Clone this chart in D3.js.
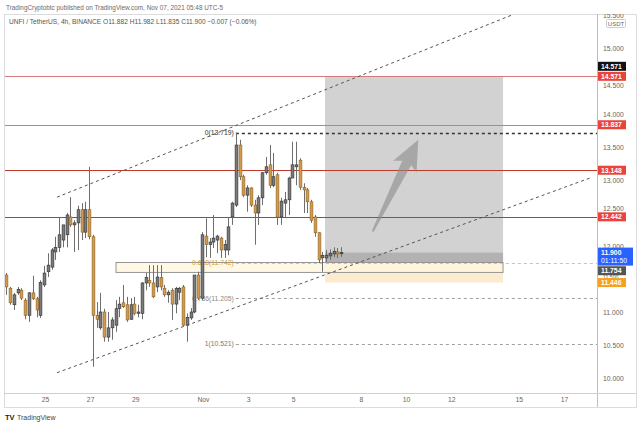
<!DOCTYPE html>
<html><head><meta charset="utf-8">
<script src="https://cdn.jsdelivr.net/npm/d3@7"></script>
<style>body{margin:0;background:#fff}svg{display:block;font-family:"Liberation Sans",Arial,sans-serif}</style>
</head><body><svg id="c" width="640" height="427"></svg>
<script>
// ---------- DATA ----------
const firstBar = "2021-10-23T07:00:00Z";   // 4h bars
const barHours = 4;
const opens  = [11.56,11.36,11.11,11.29,11.33,11.18,10.95,11.29,11.20,10.95,11.41,11.61,11.68,11.91,11.98,12.09,12.17,12.44,12.32,12.35,12.55,12.21,12.55,12.14,10.95,10.76,11.00,10.62,10.76,10.80,11.05,11.14,11.11,10.89,11.12,10.98,10.98,11.44,11.48,11.44,11.38,11.52,11.36,11.26,11.33,11.12,11.30,11.38,10.80,10.91,11.00,11.56,11.21,12.15,12.02,12.06,12.09,12.12,11.94,11.94,12.44,12.62,13.53,13.05,12.77,12.88,12.62,12.50,12.73,13.11,13.23,12.92,13.08,12.44,12.65,12.70,13.03,13.20,13.30,12.89,12.85,12.67,12.44,12.20,11.82,11.82,11.85,11.88,11.91,11.882];
const highs  = [11.59,11.38,11.29,11.38,11.36,11.21,11.30,11.55,11.23,11.48,11.70,11.89,11.97,12.14,12.44,12.32,12.50,12.74,12.39,12.61,12.65,12.67,13.20,12.17,11.15,11.29,11.05,11.00,10.92,11.18,11.23,11.41,11.23,11.21,11.23,11.11,11.45,11.59,11.71,11.71,11.71,11.71,11.41,11.33,11.36,11.38,11.38,11.41,10.98,11.06,11.56,11.61,12.21,12.42,12.12,12.47,12.17,12.14,12.09,12.44,12.67,13.719,13.61,13.08,12.92,12.89,12.70,12.77,13.12,13.35,13.53,13.41,13.11,12.73,12.82,13.05,13.58,13.58,13.33,12.95,12.88,12.70,12.47,12.21,11.91,11.94,11.95,11.98,11.97,11.982];
const lows   = [11.26,11.11,11.03,11.26,11.18,10.89,10.85,11.18,10.92,10.91,11.38,11.53,11.64,11.79,11.91,11.98,11.98,12.29,11.91,11.94,12.09,12.12,12.10,10.17,10.76,10.73,10.55,10.55,10.58,10.70,10.92,11.06,10.85,10.88,10.95,10.92,10.89,11.33,11.38,11.21,11.30,11.33,11.23,11.14,10.88,10.98,11.18,10.78,10.55,10.88,10.98,11.18,11.18,11.83,11.82,11.97,11.89,11.82,11.82,11.86,12.32,12.59,13.00,12.74,12.52,12.59,12.02,12.32,12.62,13.08,12.88,12.89,12.32,12.32,12.44,12.47,13.03,12.92,12.85,12.50,12.50,12.35,12.14,11.74,11.61,11.76,11.79,11.83,11.82,11.835];
const closes = [11.38,11.14,11.26,11.34,11.21,10.95,11.29,11.20,11.03,11.45,11.59,11.71,11.94,11.98,12.17,12.32,12.47,12.32,12.35,12.55,12.21,12.55,12.14,10.95,10.89,11.00,10.62,10.76,10.88,11.05,11.12,11.08,10.88,11.11,10.98,11.00,11.44,11.52,11.44,11.23,11.53,11.38,11.26,11.30,11.12,11.36,11.36,10.80,10.92,11.00,11.56,11.21,12.17,12.02,12.06,12.12,12.15,11.94,12.02,12.29,12.65,13.53,13.05,12.77,12.88,12.62,12.50,12.73,13.11,13.20,12.92,13.05,12.44,12.68,12.70,13.03,13.23,13.23,12.89,12.85,12.67,12.39,12.20,11.79,11.86,11.86,11.89,11.92,11.88,11.900];

const xTickDates  = ["2021-10-25","2021-10-27","2021-10-29","2021-11-01","2021-11-03","2021-11-05","2021-11-08","2021-11-10","2021-11-12","2021-11-15","2021-11-17"];
const xTickLabels = ["25","27","29","Nov","3","5","8","10","12","15","17"];
const yTickValues = [10,10.5,11,11.5,12,12.5,13,13.5,14,14.5,15,15.5];

const levelValues = [14.571,13.837,13.148,12.442];

const fibHigh = 13.719, fibLow = 10.521;
const fibRatios = [0,0.618,0.786,1];
const fibLabels = ["0(13.719)","0.618(11.742)","0.786(11.205)","1(10.521)"];
const fibStart = "2021-11-02T11:00:00Z";

const channelUpper = [["2021-10-25T12:45:00Z",12.74],["2021-11-14T16:40:00Z",15.50]];
const channelLower = [["2021-10-25T12:45:00Z",10.08],["2021-11-18T03:40:00Z",13.03]];

const zoneBoxStart = "2021-10-28T03:30:00Z", zoneBoxEnd = "2021-11-14T07:10:00Z";
const zoneBoxTop = 11.75, zoneBoxBottom = 11.60;

const longStart = "2021-11-06T09:50:00Z", longEnd = "2021-11-14T07:10:00Z";
const longEntry = 11.754, longTarget = 14.571, longStop = 11.446, lastPrice = 11.900;

const arrowTail = ["2021-11-08T12:30:00Z",12.22];
const arrowTip  = ["2021-11-10T13:00:00Z",13.61];

const tagValues = [14.571,14.571,13.837,13.148,12.442,11.900,11.754,11.446];
const tagTexts  = ["14.571","14.571","13.837","13.148","12.442","11.900","11.754","11.446"];
const countdown = "01:11:50";

const headerLine1 = "TradingCryptobtc published on TradingView.com, Nov 07, 2021 05:48 UTC-5";
const headerLine2 = "UNFI / TetherUS, 4h, BINANCE  O11.882  H11.982  L11.835  C11.900  −0.007 (−0.06%)";

// ---------- LAYOUT ----------
const W = 640, H = 427;
const P = {l:4, r:597, t:14, b:393, axisR:636, bottom:407};
const svg = d3.select("#c");
svg.append("rect").attr("width",W).attr("height",H).attr("fill","#fff");

const x = d3.scaleUtc().domain([new Date("2021-10-25T00:00:00Z"), new Date("2021-11-17T00:00:00Z")]).range([45,564]);
const y = d3.scaleLinear().domain([10,15]).range([378,48]);
const t0 = new Date(firstBar).getTime();
const bars = opens.map((o,i)=>({t:new Date(t0 + i*barHours*3600e3), o, h:highs[i], l:lows[i], c:closes[i]}));

const defs = svg.append("defs");
defs.append("clipPath").attr("id","pc").append("rect")
  .attr("x",P.l).attr("y",P.t).attr("width",P.r-P.l).attr("height",P.b-P.t);
defs.append("clipPath").attr("id","ac").append("rect")
  .attr("x",P.r).attr("y",P.t).attr("width",P.axisR-P.r).attr("height",P.b-P.t);

// header
svg.append("text").attr("x",6).attr("y",9.5).attr("font-size",6.4).attr("fill","#6a6a6a").text(headerLine1);

const g = svg.append("g").attr("clip-path","url(#pc)");

// long position
const lx0 = x(new Date(longStart)), lx1 = x(new Date(longEnd));
g.append("rect").attr("x",lx0).attr("width",lx1-lx0).attr("y",y(longTarget)).attr("height",y(longEntry)-y(longTarget))
  .attr("fill","#a6a6a6").attr("opacity",0.5);
g.append("rect").attr("x",lx0).attr("width",lx1-lx0).attr("y",y(lastPrice)).attr("height",y(longEntry)-y(lastPrice))
  .attr("fill","#777").attr("opacity",0.35);
g.append("rect").attr("x",lx0).attr("width",lx1-lx0).attr("y",y(longEntry)).attr("height",y(longStop)-y(longEntry))
  .attr("fill","#fde8c8").attr("opacity",0.85);

// zone box
const bx0 = x(new Date(zoneBoxStart)), bx1 = x(new Date(zoneBoxEnd));
g.append("rect").attr("x",bx0).attr("width",bx1-bx0).attr("y",y(zoneBoxTop)).attr("height",y(zoneBoxBottom)-y(zoneBoxTop))
  .attr("fill","#fff6e0").attr("fill-opacity",0.8).attr("stroke","#8a8a8a").attr("stroke-width",0.9);

// horizontal levels
g.selectAll("line.lvl").data(levelValues).join("line").attr("class","lvl")
  .attr("x1",P.l).attr("x2",P.r).attr("y1",d=>Math.round(y(d))+0.5).attr("y2",d=>Math.round(y(d))+0.5)
  .attr("stroke",(d,i)=> i<2 ? "#d27a7a" : "#c0392b").attr("stroke-width",1);

// fib
const fibVals = fibRatios.map(r=>fibHigh - r*(fibHigh-fibLow));
const fx0 = x(new Date(fibStart));
const fibColors = ["#333","#e3bf85","#a0a0a0","#a0a0a0"];
const fibText = ["#333","#d29d3a","#8a8a8a","#777"];
g.selectAll("line.fib").data(fibVals).join("line").attr("class","fib")
  .attr("x1",fx0).attr("x2",P.r).attr("y1",d=>Math.round(y(d))+0.5).attr("y2",d=>Math.round(y(d))+0.5)
  .attr("stroke",(d,i)=>fibColors[i]).attr("stroke-width",(d,i)=>i===0?1.4:1)
  .attr("stroke-dasharray","3,3");
g.selectAll("text.fib").data(fibVals).join("text").attr("class","fib")
  .attr("x",fx0-2).attr("y",d=>y(d)+2.4).attr("text-anchor","end").attr("font-size",6.8)
  .attr("fill",(d,i)=>fibText[i]).text((d,i)=>fibLabels[i]);

// channel
const lineGen = d3.line().x(d=>x(new Date(d[0]))).y(d=>y(d[1]));
[channelUpper, channelLower].forEach(c=>{
  g.append("path").attr("d",lineGen(c)).attr("fill","none").attr("stroke","#555").attr("stroke-width",1).attr("stroke-dasharray","3,3");
});

// candles
const bw = 2.8;
const cg = g.append("g");
cg.selectAll("line.w").data(bars).join("line").attr("class","w")
  .attr("x1",d=>Math.round(x(d.t))+0.5).attr("x2",d=>Math.round(x(d.t))+0.5)
  .attr("y1",d=>y(d.h)).attr("y2",d=>y(d.l)).attr("stroke","#6e6e6e").attr("stroke-width",1);
cg.selectAll("rect.b").data(bars).join("rect").attr("class","b")
  .attr("x",d=>Math.round(x(d.t))+0.5-bw/2).attr("width",bw)
  .attr("y",d=>y(Math.max(d.o,d.c))).attr("height",d=>Math.max(1,Math.abs(y(d.o)-y(d.c))))
  .attr("fill",d=>d.c>=d.o?"#7b7b7b":"#d19a4c")
  .attr("stroke",d=>d.c>=d.o?"#2e2e2e":"#8d6426").attr("stroke-width",0.6);

// arrow
(function(){
  const tx = x(new Date(arrowTail[0])), ty = y(arrowTail[1]);
  const px = x(new Date(arrowTip[0])), py = y(arrowTip[1]);
  const dx = px-tx, dy = py-ty, L = Math.hypot(dx,dy);
  const ux = dx/L, uy = dy/L, nx = -uy, ny = ux;
  const hb = L-26;
  const pt = (a,b)=>[tx+ux*a+nx*b, ty+uy*a+ny*b];
  const pts = [pt(0,-1),pt(hb,-5),pt(hb-4,-13),pt(L,0),pt(hb-4,13),pt(hb,5),pt(0,1)];
  g.append("path").attr("d","M"+pts.map(p=>p.join(",")).join("L")+"Z")
    .attr("fill","#8a8a8a").attr("opacity",0.6);
})();

// header line 2 (inside pane)
svg.append("text").attr("x",9).attr("y",24).attr("font-size",6.6).attr("fill","#555").text(headerLine2);

// frame
svg.append("rect").attr("x",P.l+0.5).attr("y",P.t+0.5).attr("width",P.axisR-P.l).attr("height",P.bottom-P.t)
  .attr("fill","none").attr("stroke","#dcdcdc");
svg.append("line").attr("x1",P.r+0.5).attr("x2",P.r+0.5).attr("y1",P.t).attr("y2",P.bottom).attr("stroke","#bdbdbd");
svg.append("line").attr("x1",P.l).attr("x2",P.axisR).attr("y1",P.b+0.5).attr("y2",P.b+0.5).attr("stroke","#cfcfcf");

// y axis (labels that sit under a price tag are nudged clear of it)
const tickNudge = {14.5:4.8, 12.5:-4.6, 11.5:-2.2};
const ya = svg.append("g").attr("clip-path","url(#ac)").append("g").attr("transform",`translate(${P.r},0)`)
  .call(d3.axisRight(y).tickValues(yTickValues).tickFormat(d3.format(".3f")).tickSize(0).tickPadding(6));
ya.select(".domain").remove();
ya.selectAll("text").attr("font-size",6.8).attr("fill","#666").attr("font-family","Liberation Sans, Arial, sans-serif")
  .attr("transform",d=>`translate(0,${tickNudge[d]||0})`)
  .attr("font-size",d=>d===11.5?5.2:6.8);

// USDT box
svg.append("rect").attr("x",606.5).attr("y",19.5).attr("width",19).attr("height",8).attr("fill","#fff").attr("stroke","#ccc").attr("rx",1);
svg.append("text").attr("x",616).attr("y",26).attr("text-anchor","middle").attr("font-size",6).attr("fill","#666").text("USDT");

// x axis
const xa = svg.append("g").attr("transform",`translate(0,${P.b})`)
  .call(d3.axisBottom(x).tickValues(xTickDates.map(d=>new Date(d+"T00:00:00Z"))).tickFormat((d,i)=>xTickLabels[i]).tickSize(0).tickPadding(4));
xa.select(".domain").remove();
xa.selectAll("text").attr("font-size",6.8).attr("fill","#666").attr("font-family","Liberation Sans, Arial, sans-serif");

// price tags
const tagBg = ["#111","#e8443a","#e8443a","#e8443a","#e8443a","#2962ff","#555","#f7a21b"];
const tagShift = [-10,0,0,0,0,0,8.5,0];
const tagW = [28,28,28,28,28,35,28,28];
tagValues.forEach((v,i)=>{
  const cy = y(v) + tagShift[i];
  const h = i===5 ? 18 : 9;
  const top = i===5 ? cy-5 : cy-h/2;
  svg.append("rect").attr("x",598).attr("y",top).attr("width",tagW[i]).attr("height",h).attr("fill",tagBg[i]);
  svg.append("text").attr("x",601).attr("y",cy+2.5).attr("font-size",6.8).attr("font-weight","bold")
    .attr("fill","#fff").text(tagTexts[i]);
  if(i===5) svg.append("text").attr("x",601).attr("y",cy+10.5).attr("font-size",6.8).attr("fill","#fff").text(countdown);
});

// logo
svg.append("text").attr("x",5).attr("y",420).attr("font-size",7.5).attr("font-weight","bold").attr("fill","#222").text("TV");
svg.append("text").attr("x",17).attr("y",420).attr("font-size",7).attr("fill","#444").text("TradingView");
</script></body></html>
